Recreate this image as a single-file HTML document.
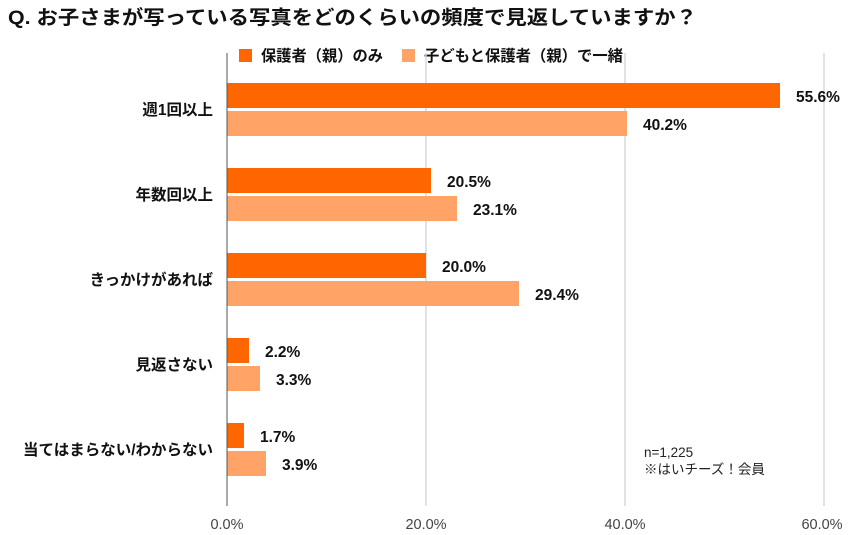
<!DOCTYPE html>
<html><head><meta charset="utf-8"><style>
body{margin:0;background:#fff}
svg{display:block;font-family:"Liberation Sans","Noto Sans CJK JP",sans-serif}
.b{font-weight:bold;font-size:15.5px;fill:#111}
.c{font-weight:bold;font-size:15.5px;fill:#111}
.t{font-size:14.5px;fill:#444}
</style></head><body>
<svg width="850" height="535" viewBox="0 0 850 535">
<text x="8" y="24" font-size="19.5" font-weight="bold" fill="#111" textLength="689" lengthAdjust="spacingAndGlyphs">Q. お子さまが写っている写真をどのくらいの頻度で見返していますか？</text>
<rect x="239" y="49" width="13" height="13" fill="#ff6600"/>
<text x="261" y="61" class="c" textLength="122" lengthAdjust="spacingAndGlyphs">保護者（親）のみ</text>
<rect x="402" y="49" width="13" height="13" fill="#ffa366"/>
<text x="424" y="61" class="c" textLength="199" lengthAdjust="spacingAndGlyphs">子どもと保護者（親）で一緒</text>
<g stroke="#d9d9d9" stroke-width="1.5">
<line x1="426" y1="53" x2="426" y2="506"/>
<line x1="625" y1="53" x2="625" y2="506"/>
<line x1="824" y1="53" x2="824" y2="506"/>
</g>
<g fill="#ff6600">
<rect x="227" y="83" width="553" height="25"/>
<rect x="227" y="168" width="204" height="25"/>
<rect x="227" y="253" width="199" height="25"/>
<rect x="227" y="338" width="22" height="25"/>
<rect x="227" y="423" width="17" height="25"/>
</g>
<g fill="#ffa366">
<rect x="227" y="111" width="400" height="25"/>
<rect x="227" y="196" width="230" height="25"/>
<rect x="227" y="281" width="292" height="25"/>
<rect x="227" y="366" width="33" height="25"/>
<rect x="227" y="451" width="39" height="25"/>
</g>
<line x1="227" y1="53" x2="227" y2="506" stroke="#555" stroke-width="1"/>
<text x="796" y="102" class="b">55.6%</text>
<text x="643" y="130" class="b">40.2%</text>
<text x="447" y="187" class="b">20.5%</text>
<text x="473" y="215" class="b">23.1%</text>
<text x="442" y="272" class="b">20.0%</text>
<text x="535" y="300" class="b">29.4%</text>
<text x="265" y="357" class="b">2.2%</text>
<text x="276" y="385" class="b">3.3%</text>
<text x="260" y="442" class="b">1.7%</text>
<text x="282" y="470" class="b">3.9%</text>
<g text-anchor="end">
<text x="213" y="115" class="c">週1回以上</text>
<text x="213" y="200" class="c">年数回以上</text>
<text x="213" y="285" class="c">きっかけがあれば</text>
<text x="213" y="370" class="c">見返さない</text>
<text x="213" y="455" class="c">当てはまらない/わからない</text>
</g>
<text x="227" y="529" class="t" text-anchor="middle">0.0%</text>
<text x="426" y="529" class="t" text-anchor="middle">20.0%</text>
<text x="625" y="529" class="t" text-anchor="middle">40.0%</text>
<text x="822" y="529" class="t" text-anchor="middle">60.0%</text>
<text x="644" y="457" font-size="13.5" fill="#222">n=1,225</text>
<text x="644" y="474" font-size="13.5" fill="#222">※はいチーズ！会員</text>
</svg>
</body></html>
